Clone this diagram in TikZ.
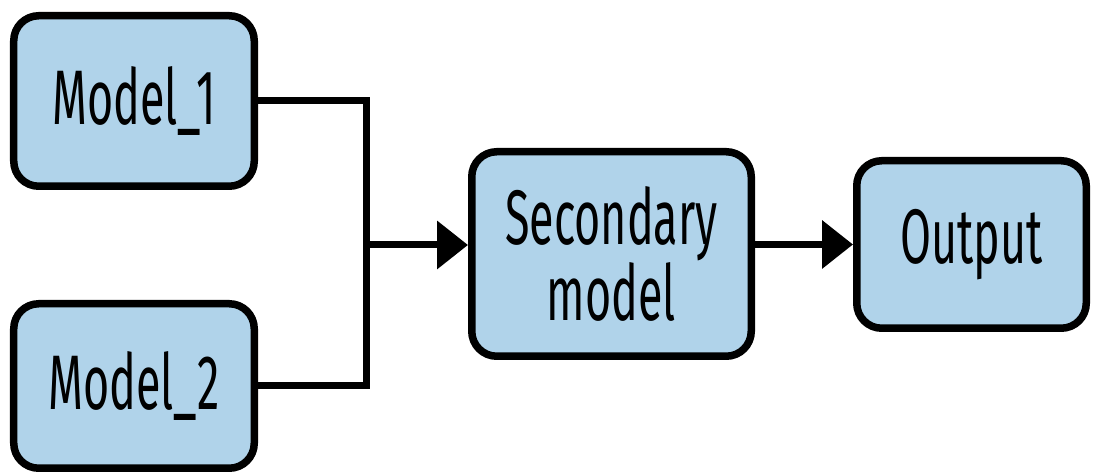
\documentclass[tikz,border=0pt]{standalone}
\usepackage{fontspec}
\setmainfont[FakeStretch=0.58]{Fira Sans}
\usetikzlibrary{arrows.meta,calc}
\definecolor{boxblue}{HTML}{B0D3EA}

\begin{document}
\begin{tikzpicture}[
			block/.style = {draw, line width=0.15cm, fill=boxblue, rounded corners=0.5cm, align=center, font=\fontsize{44}{42}\selectfont},
			link/.style = {line width=0.14cm},
			flow/.style = {link, -{Triangle[length=0.62cm, width=0.94cm]}}
			]
			\useasboundingbox (0,0) rectangle (21.86,9.48);
			
			\node[block, minimum width=4.81cm, minimum height=3.41cm] (m1) at (2.68,7.46) {Model\_1};
			\node[block, minimum width=4.81cm, minimum height=3.29cm] (m2) at (2.68,1.76) {Model\_2};
			\node[block, minimum width=5.59cm, minimum height=4.09cm] (sec) at (12.23,4.40) {Secondary\\model};
			\node[block, minimum width=4.59cm, minimum height=3.35cm] (out) at (19.43,4.59) {Output};
			
			% both models meet here
			\coordinate (join) at (7.32,4.58);
			\draw[link] (m1.east) -| (join);
			\draw[link] (m2.east) -| (join);
			\draw[flow] (join) -- (join -| sec.west);
			\draw[flow] (sec.east |- out.west) -- (out.west);
		\end{tikzpicture}
\end{document}
